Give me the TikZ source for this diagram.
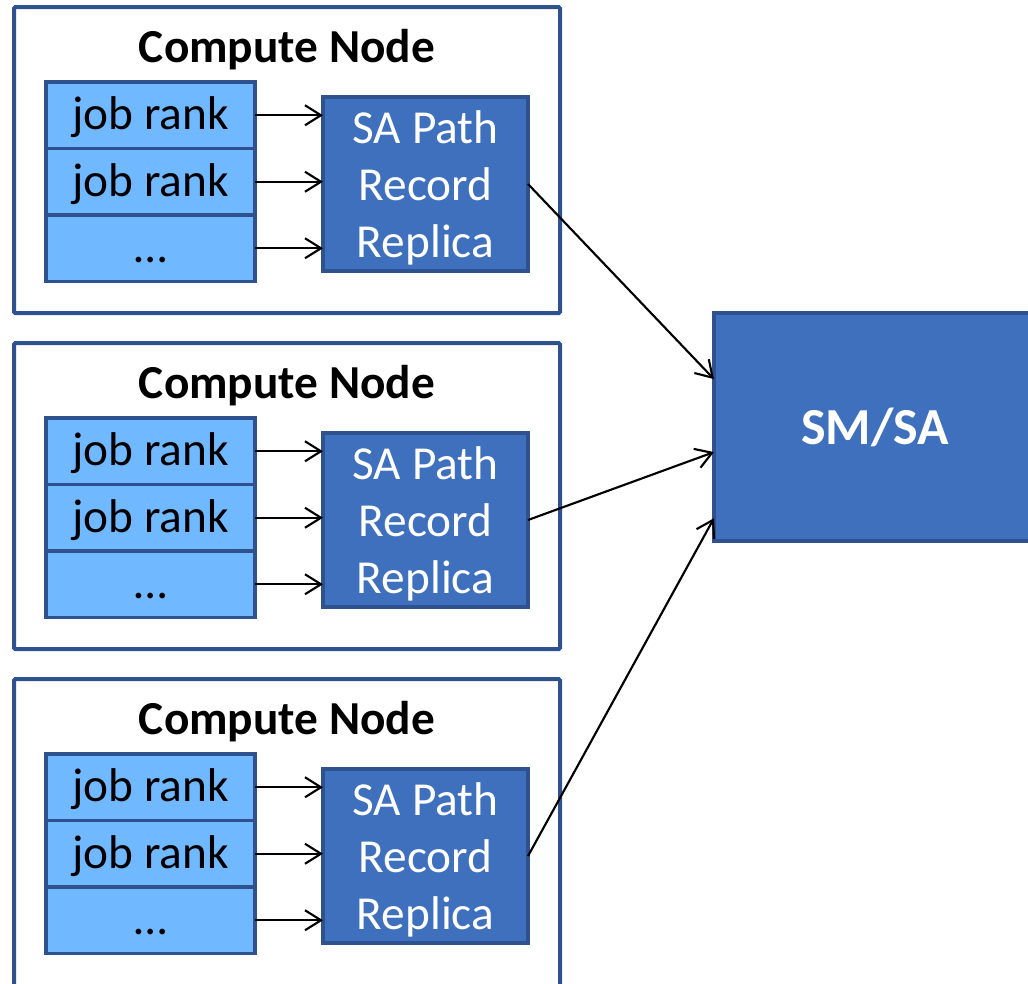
\documentclass[tikz,border=0pt]{standalone}
\usepackage{fontspec}
\setmainfont{Carlito}
\usetikzlibrary{arrows.meta,calc}
\definecolor{rankfill}{HTML}{70B8FF}
\definecolor{boxline}{HTML}{2F528F}
\definecolor{replfill}{HTML}{3E70BE}

\begin{document}
\begin{tikzpicture}[x=0.75pt,y=-0.75pt,
  every node/.style={inner sep=0pt, outer sep=0pt},
  hostbox/.style={draw=boxline, line width=3pt, fill=white, rounded corners=1pt,
    minimum width=546*0.75pt, anchor=north west},
  hosttitle/.style={font=\fontsize{35.5}{43}\selectfont\bfseries},
  rankbox/.style={draw=boxline, line width=2.6pt, fill=rankfill,
    minimum width=209*0.75pt, minimum height=66.5*0.75pt, anchor=north west,
    text height=28.5pt, text depth=6.75pt, font=\fontsize{35.5}{43}\selectfont},
  replbox/.style={draw=boxline, line width=2.6pt, fill=replfill, text=white,
    minimum width=205*0.75pt, minimum height=174*0.75pt, anchor=north west,
    align=center, text depth=0pt, font=\fontsize{35.5}{43}\selectfont},
  smbox/.style={draw=boxline, line width=2.6pt, fill=replfill, text=white,
    minimum width=322*0.75pt, minimum height=228*0.75pt, anchor=north west,
    font=\fontsize{39}{47}\selectfont\bfseries},
  feed/.style={-{Straight Barb[length=12pt,width=15pt]}, line width=1.6pt},
]
\clip (0,0) rectangle (1028,983);

% three compute nodes, each with its job ranks and local replica
\foreach \k/\dy/\h in {1/0/306, 2/336/306, 3/672/340} {
  \node[hostbox, minimum height=\h*0.75pt] (host\k) at (14,7+\dy) {};
  \node[hosttitle] (title\k) at (287,50+\dy) {Compute Node};
  \node[rankbox] (ra\k) at (46,82+\dy) {job rank};
  \node[rankbox] (rb\k) at (46,148.5+\dy) {job rank};
  \node[rankbox] (rc\k) at (46,215+\dy) {…};
  \node[replbox] (sa\k) at (323,97+\dy) {SA Path\\Record\\Replica};
  \draw[feed] (ra\k.east) -- (ra\k.east -| sa\k.west);
  \draw[feed] (rb\k.east) -- (rb\k.east -| sa\k.west);
  \draw[feed] (rc\k.east) -- (rc\k.east -| sa\k.west);
}

% subnet manager / administrator
\node[smbox] (sm) at (714,313) {SM/SA};

\draw[feed] (sa1.east) -- ($(sm.north west)!0.29!(sm.south west)$);
\draw[feed] (sa2.east) -- ($(sm.north west)!0.61!(sm.south west)$);
\draw[feed] (sa3.east) -- ($(sm.north west)!0.90!(sm.south west)$);
\end{tikzpicture}
\end{document}
